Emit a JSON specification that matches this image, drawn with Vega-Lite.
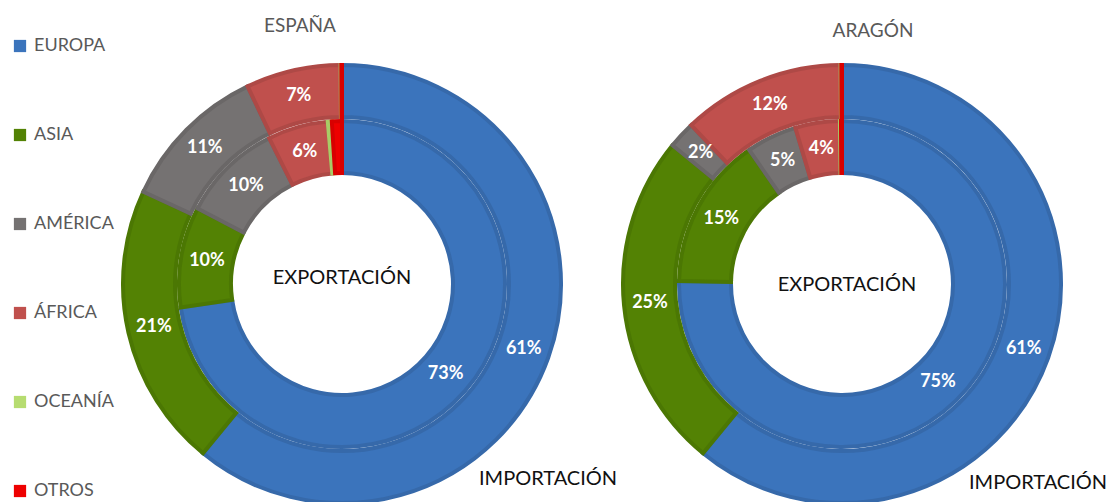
{
  "$schema": "https://vega.github.io/schema/vega-lite/v6.json",
  "padding": 0,
  "background": "white",
  "bounds": "flush",
  "config": {"view": {"stroke": null}, "font": "Lato"},
  "datasets": {
    "datos": [
      {"pais": "ESPAÑA", "flujo": "EXPORTACIÓN", "region": "EUROPA", "orden": 1, "valor": 0.73},
      {"pais": "ESPAÑA", "flujo": "EXPORTACIÓN", "region": "ASIA", "orden": 2, "valor": 0.10},
      {"pais": "ESPAÑA", "flujo": "EXPORTACIÓN", "region": "AMÉRICA", "orden": 3, "valor": 0.10},
      {"pais": "ESPAÑA", "flujo": "EXPORTACIÓN", "region": "ÁFRICA", "orden": 4, "valor": 0.06},
      {"pais": "ESPAÑA", "flujo": "EXPORTACIÓN", "region": "OCEANÍA", "orden": 5, "valor": 0.004},
      {"pais": "ESPAÑA", "flujo": "EXPORTACIÓN", "region": "OTROS", "orden": 6, "valor": 0.01},
      {"pais": "ESPAÑA", "flujo": "IMPORTACIÓN", "region": "EUROPA", "orden": 1, "valor": 0.61},
      {"pais": "ESPAÑA", "flujo": "IMPORTACIÓN", "region": "ASIA", "orden": 2, "valor": 0.21},
      {"pais": "ESPAÑA", "flujo": "IMPORTACIÓN", "region": "AMÉRICA", "orden": 3, "valor": 0.11},
      {"pais": "ESPAÑA", "flujo": "IMPORTACIÓN", "region": "ÁFRICA", "orden": 4, "valor": 0.07},
      {"pais": "ESPAÑA", "flujo": "IMPORTACIÓN", "region": "OCEANÍA", "orden": 5, "valor": 0.0005},
      {"pais": "ESPAÑA", "flujo": "IMPORTACIÓN", "region": "OTROS", "orden": 6, "valor": 0.0005},
      {"pais": "ARAGÓN", "flujo": "EXPORTACIÓN", "region": "EUROPA", "orden": 1, "valor": 0.75},
      {"pais": "ARAGÓN", "flujo": "EXPORTACIÓN", "region": "ASIA", "orden": 2, "valor": 0.15},
      {"pais": "ARAGÓN", "flujo": "EXPORTACIÓN", "region": "AMÉRICA", "orden": 3, "valor": 0.05},
      {"pais": "ARAGÓN", "flujo": "EXPORTACIÓN", "region": "ÁFRICA", "orden": 4, "valor": 0.044},
      {"pais": "ARAGÓN", "flujo": "EXPORTACIÓN", "region": "OCEANÍA", "orden": 5, "valor": 0.001},
      {"pais": "ARAGÓN", "flujo": "EXPORTACIÓN", "region": "OTROS", "orden": 6, "valor": 0.001},
      {"pais": "ARAGÓN", "flujo": "IMPORTACIÓN", "region": "EUROPA", "orden": 1, "valor": 0.61},
      {"pais": "ARAGÓN", "flujo": "IMPORTACIÓN", "region": "ASIA", "orden": 2, "valor": 0.25},
      {"pais": "ARAGÓN", "flujo": "IMPORTACIÓN", "region": "AMÉRICA", "orden": 3, "valor": 0.02},
      {"pais": "ARAGÓN", "flujo": "IMPORTACIÓN", "region": "ÁFRICA", "orden": 4, "valor": 0.12},
      {"pais": "ARAGÓN", "flujo": "IMPORTACIÓN", "region": "OCEANÍA", "orden": 5, "valor": 0.0005},
      {"pais": "ARAGÓN", "flujo": "IMPORTACIÓN", "region": "OTROS", "orden": 6, "valor": 0.0005}
    ]
  },
  "spacing": 8,
  "hconcat": [
    {
      "width": 684,
      "height": 568,
      "title": {"text": "ESPAÑA", "fontSize": 19, "font": "Lato", "fontWeight": "normal", "color": "#595959", "anchor": "middle", "dx": -42, "dy": 40},
      "data": {"name": "datos"},
      "transform": [{"filter": "datum.pais === 'ESPAÑA'"}],
      "layer": [
        {
          "transform": [{"filter": "datum.flujo === 'EXPORTACIÓN'"}],
          "mark": {"type": "arc", "innerRadius": 111, "outerRadius": 163, "strokeWidth": 4},
          "encoding": {
            "theta": {"field": "valor", "type": "quantitative", "stack": "normalize"},
            "order": {"field": "orden", "type": "quantitative"},
            "color": {"field": "region", "type": "nominal",
              "scale": {"domain": ["EUROPA", "ASIA", "AMÉRICA", "ÁFRICA", "OCEANÍA", "OTROS"], "range": ["#3B74BC", "#538204", "#757272", "#C0504D", "#B6DC70", "#EE0000"]},
              "legend": {"orient": "none", "legendX": 11, "legendY": 37, "title": null, "symbolType": "square", "symbolSize": 150, "symbolStrokeWidth": 0, "labelFontSize": 18, "labelFont": "Lato", "labelColor": "#595959", "rowPadding": 71, "labelOffset": 5, "padding": 0}},
            "stroke": {"field": "region", "type": "nominal",
              "scale": {"domain": ["EUROPA", "ASIA", "AMÉRICA", "ÁFRICA", "OCEANÍA", "OTROS"], "range": ["#3669AA", "#4B7703", "#6A6767", "#AE4946", "#A8CC66", "#D80000"]},
              "legend": null}
          }
        },
        {
          "transform": [{"filter": "datum.flujo === 'IMPORTACIÓN'"}],
          "mark": {"type": "arc", "innerRadius": 167, "outerRadius": 219, "strokeWidth": 4},
          "encoding": {
            "theta": {"field": "valor", "type": "quantitative", "stack": "normalize"},
            "order": {"field": "orden", "type": "quantitative"},
            "color": {"field": "region", "type": "nominal"},
            "stroke": {"field": "region", "type": "nominal", "legend": null}
          }
        },
        {
          "transform": [{"filter": "datum.flujo === 'EXPORTACIÓN'"}],
          "mark": {"type": "text", "radius": 137, "color": "white", "fontWeight": "bold", "fontSize": 18, "font": "Lato"},
          "encoding": {
            "theta": {"field": "valor", "type": "quantitative", "stack": "normalize"},
            "order": {"field": "orden", "type": "quantitative"},
            "text": {"condition": {"test": "datum.valor >= 0.015", "field": "valor", "type": "quantitative", "format": ".0%"}, "value": ""}
          }
        },
        {
          "transform": [{"filter": "datum.flujo === 'IMPORTACIÓN'"}],
          "mark": {"type": "text", "radius": 193, "color": "white", "fontWeight": "bold", "fontSize": 18, "font": "Lato"},
          "encoding": {
            "theta": {"field": "valor", "type": "quantitative", "stack": "normalize"},
            "order": {"field": "orden", "type": "quantitative"},
            "text": {"condition": {"test": "datum.valor >= 0.015", "field": "valor", "type": "quantitative", "format": ".0%"}, "value": ""}
          }
        },
        {
          "data": {"values": [{"flujo": "EXPORTACIÓN"}]},
          "mark": {"type": "text", "fontSize": 20, "font": "Lato", "color": "#111111", "dy": -6},
          "encoding": {"text": {"field": "flujo", "type": "nominal"}}
        },
        {
          "data": {"values": [{"flujo": "IMPORTACIÓN"}]},
          "mark": {"type": "text", "fontSize": 20, "font": "Lato", "color": "#111111", "dx": 206, "dy": 195},
          "encoding": {"text": {"field": "flujo", "type": "nominal"}}
        }
      ]
    },
    {
      "width": 300,
      "height": 568,
      "title": {"text": "ARAGÓN", "fontSize": 19, "font": "Lato", "fontWeight": "normal", "color": "#595959", "anchor": "middle", "dx": 31, "dy": 45},
      "data": {"name": "datos"},
      "transform": [{"filter": "datum.pais === 'ARAGÓN'"}],
      "layer": [
        {
          "transform": [{"filter": "datum.flujo === 'EXPORTACIÓN'"}],
          "mark": {"type": "arc", "innerRadius": 111, "outerRadius": 163, "strokeWidth": 4},
          "encoding": {
            "theta": {"field": "valor", "type": "quantitative", "stack": "normalize"},
            "order": {"field": "orden", "type": "quantitative"},
            "color": {"field": "region", "type": "nominal"},
            "stroke": {"field": "region", "type": "nominal", "legend": null}
          }
        },
        {
          "transform": [{"filter": "datum.flujo === 'IMPORTACIÓN'"}],
          "mark": {"type": "arc", "innerRadius": 167, "outerRadius": 219, "strokeWidth": 4},
          "encoding": {
            "theta": {"field": "valor", "type": "quantitative", "stack": "normalize"},
            "order": {"field": "orden", "type": "quantitative"},
            "color": {"field": "region", "type": "nominal"},
            "stroke": {"field": "region", "type": "nominal", "legend": null}
          }
        },
        {
          "transform": [{"filter": "datum.flujo === 'EXPORTACIÓN'"}],
          "mark": {"type": "text", "radius": 137, "color": "white", "fontWeight": "bold", "fontSize": 18, "font": "Lato"},
          "encoding": {
            "theta": {"field": "valor", "type": "quantitative", "stack": "normalize"},
            "order": {"field": "orden", "type": "quantitative"},
            "text": {"condition": {"test": "datum.valor >= 0.015", "field": "valor", "type": "quantitative", "format": ".0%"}, "value": ""}
          }
        },
        {
          "transform": [{"filter": "datum.flujo === 'IMPORTACIÓN'"}],
          "mark": {"type": "text", "radius": 193, "color": "white", "fontWeight": "bold", "fontSize": 18, "font": "Lato"},
          "encoding": {
            "theta": {"field": "valor", "type": "quantitative", "stack": "normalize"},
            "order": {"field": "orden", "type": "quantitative"},
            "text": {"condition": {"test": "datum.valor >= 0.015", "field": "valor", "type": "quantitative", "format": ".0%"}, "value": ""}
          }
        },
        {
          "data": {"values": [{"flujo": "EXPORTACIÓN"}]},
          "mark": {"type": "text", "fontSize": 20, "font": "Lato", "color": "#111111", "dx": 5, "dy": 1},
          "encoding": {"text": {"field": "flujo", "type": "nominal"}}
        },
        {
          "data": {"values": [{"flujo": "IMPORTACIÓN"}]},
          "mark": {"type": "text", "fontSize": 20, "font": "Lato", "color": "#111111", "dx": 196, "dy": 199},
          "encoding": {"text": {"field": "flujo", "type": "nominal"}}
        }
      ]
    }
  ]
}
